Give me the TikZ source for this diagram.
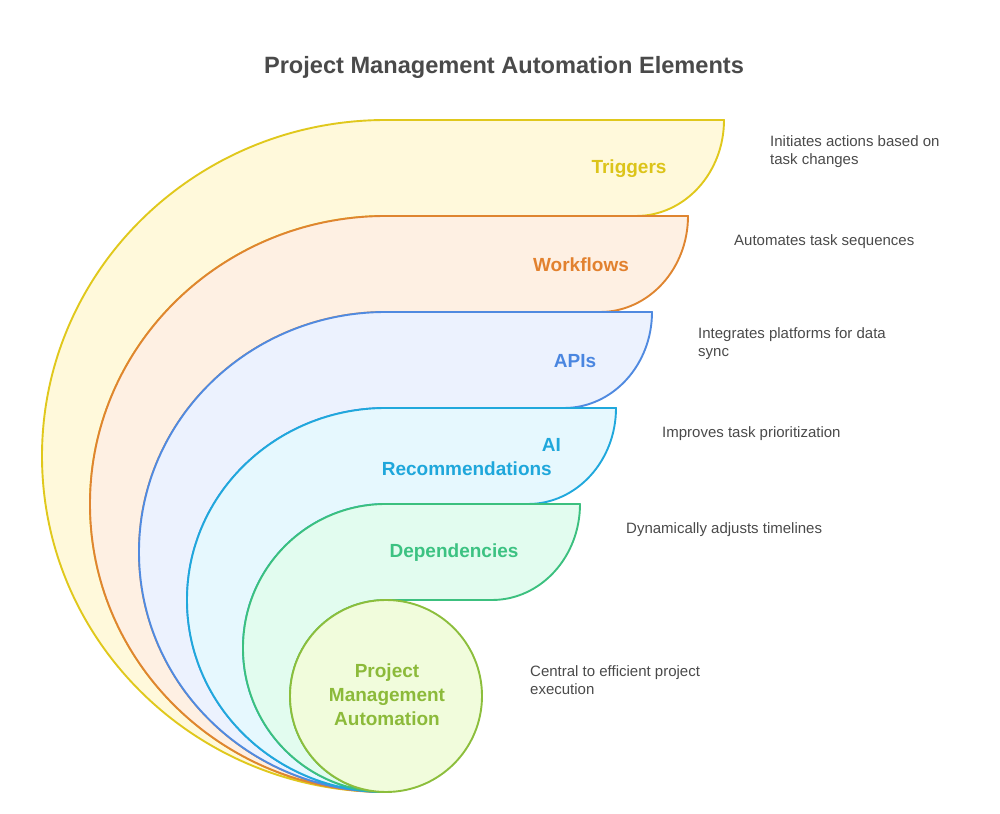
\documentclass[tikz,border=0pt]{standalone}
\usepackage{fontspec}
\setmainfont{Liberation Sans}
\definecolor{tS}{HTML}{E0C81C}\definecolor{tF}{HTML}{FFF9DB}\definecolor{tT}{HTML}{DCC41A}
\definecolor{wS}{HTML}{DF8530}\definecolor{wF}{HTML}{FEF0E3}\definecolor{wT}{HTML}{E2812E}
\definecolor{aS}{HTML}{508AE0}\definecolor{aF}{HTML}{ECF2FE}\definecolor{aT}{HTML}{4A86E0}
\definecolor{iS}{HTML}{20A8DC}\definecolor{iF}{HTML}{E6F8FE}\definecolor{iT}{HTML}{1FA7DB}
\definecolor{dS}{HTML}{3CC07F}\definecolor{dF}{HTML}{E2FCEF}\definecolor{dT}{HTML}{3CC282}
\definecolor{cS}{HTML}{8CBE3C}\definecolor{cF}{HTML}{F1FCDC}\definecolor{cT}{HTML}{8CBA3A}
\definecolor{gT}{HTML}{4A4A4A}
\begin{document}
\begin{tikzpicture}[x=1pt,y=1pt,
  band/.style={line width=1.9pt,line join=round},
  lbl/.style={font=\fontsize{19}{24}\selectfont\bfseries,inner sep=0pt,align=center},
  desc/.style={font=\fontsize{15}{18}\selectfont,text=gT,inner sep=0pt,anchor=west,align=left}]
\useasboundingbox (0,0) rectangle (1000,813);
\node[font=\fontsize{23.6}{28}\selectfont\bfseries,text=gT,inner sep=0pt] (title) at (504,746) {Project Management Automation Elements};
% layers
\draw[band,draw=tS,fill=tF] (386,21) arc[start angle=-90,end angle=-270,x radius=344,y radius=336] -- (724,693)
  arc[start angle=0,end angle=-90,x radius=88,y radius=96] -- (386,597)
  arc[start angle=90,end angle=270,x radius=296,y radius=288] -- cycle;
\draw[band,draw=wS,fill=wF] (386,21) arc[start angle=-90,end angle=-270,x radius=296,y radius=288] -- (688,597)
  arc[start angle=0,end angle=-90,x radius=88,y radius=96] -- (386,501)
  arc[start angle=90,end angle=270,x radius=247,y radius=240] -- cycle;
\draw[band,draw=aS,fill=aF] (386,21) arc[start angle=-90,end angle=-270,x radius=247,y radius=240] -- (652,501)
  arc[start angle=0,end angle=-90,x radius=88,y radius=96] -- (386,405)
  arc[start angle=90,end angle=270,x radius=199,y radius=192] -- cycle;
\draw[band,draw=iS,fill=iF] (386,21) arc[start angle=-90,end angle=-270,x radius=199,y radius=192] -- (616,405)
  arc[start angle=0,end angle=-90,x radius=88,y radius=96] -- (386,309)
  arc[start angle=90,end angle=270,x radius=143,y radius=144] -- cycle;
\draw[band,draw=dS,fill=dF] (386,21) arc[start angle=-90,end angle=-270,x radius=143,y radius=144] -- (580,309)
  arc[start angle=0,end angle=-90,x radius=88,y radius=96] -- (386,213)
  arc[start angle=90,end angle=270,radius=96] -- cycle;
\draw[band,draw=cS,fill=cF] (386,117) circle[radius=96];
% labels
\node[lbl,text=tT] (lt) at (629,644) {Triggers};
\node[lbl,text=wT] (lw) at (581,548) {Workflows};
\node[lbl,text=aT] (la) at (575,452) {APIs};
\node[lbl,text=iT,align=right,anchor=east] (li) at (561,356) {AI\\Recommendations\rule{9pt}{0pt}};
\node[lbl,text=dT] (ld) at (454,260) {Dependencies};
\node[lbl,text=cT] (lc) at (387,118) {Project\\Management\\Automation};
% descriptions
\node[desc] (dt) at (770,661) {Initiates actions based on\\task changes};
\node[desc] (dw) at (734,571) {Automates task sequences};
\node[desc] (da) at (698,469) {Integrates platforms for data\\sync};
\node[desc] (di) at (662,379) {Improves task prioritization};
\node[desc] (dd) at (626,283) {Dynamically adjusts timelines};
\node[desc] (dc) at (530,133) {Central to efficient project\\execution};
\end{tikzpicture}
\end{document}
